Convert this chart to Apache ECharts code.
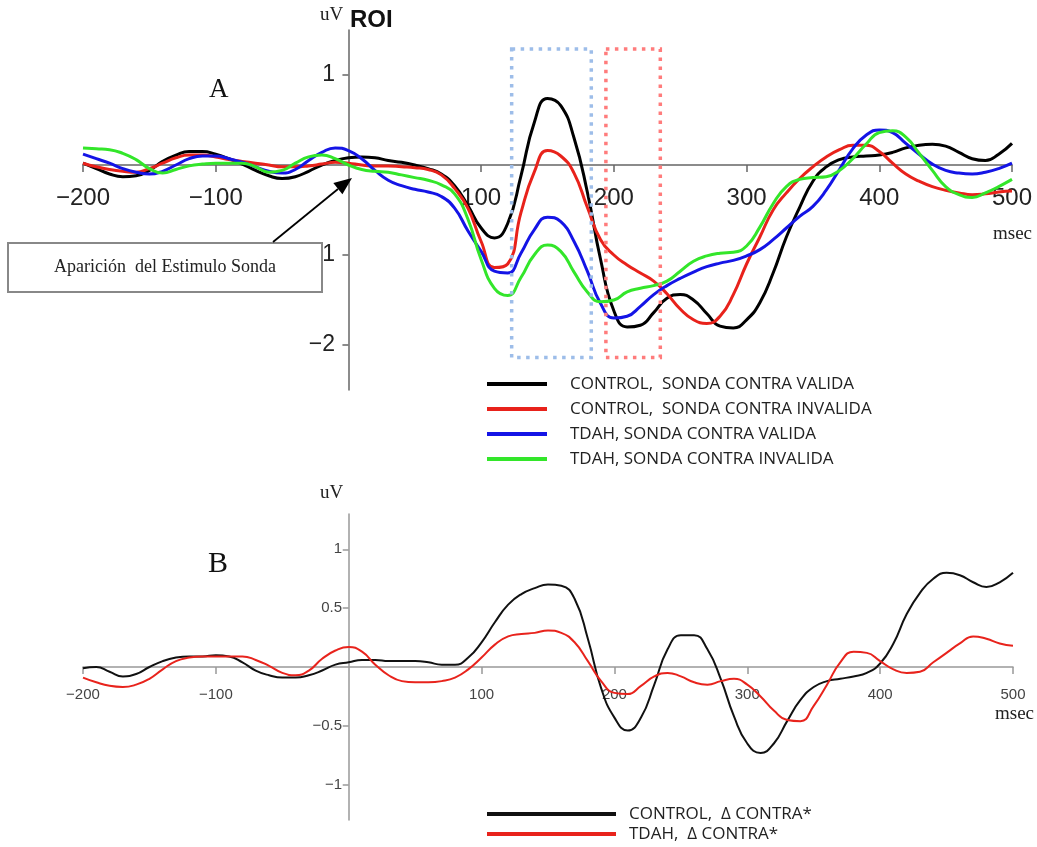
<!DOCTYPE html>
<html><head><meta charset="utf-8">
<script src="https://cdn.jsdelivr.net/npm/echarts@6.0.0/dist/echarts.min.js"></script>
<style>html,body{margin:0;padding:0;background:#fff}#c{width:1037px;height:847px}</style>
</head><body><div id="c"></div>
<script>
// time axis (ms)
const times = [-200,-190,-180,-170,-160,-150,-140,-130,-120,-110,-100,-90,-80,-70,-60,-50,-40,-30,-20,-10,0,10,20,30,40,50,60,70,80,90,100,110,120,130,140,150,160,170,180,190,200,210,220,230,240,250,260,270,280,290,300,310,320,330,340,350,360,370,380,390,400,410,420,430,440,450,460,470,480,490,500];

// Panel A (uV)
const controlValida = [0.02,-0.04,-0.10,-0.13,-0.12,-0.06,0.04,0.11,0.15,0.15,0.12,0.07,0.01,-0.06,-0.12,-0.15,-0.13,-0.07,0.00,0.05,0.08,0.09,0.08,0.05,0.03,0.00,-0.04,-0.10,-0.23,-0.45,-0.70,-0.81,-0.65,-0.12,0.47,0.74,0.66,0.30,-0.30,-1.05,-1.62,-1.80,-1.78,-1.64,-1.48,-1.44,-1.50,-1.65,-1.79,-1.81,-1.72,-1.53,-1.20,-0.80,-0.47,-0.18,-0.02,0.06,0.09,0.10,0.11,0.14,0.19,0.22,0.23,0.21,0.14,0.07,0.05,0.12,0.24];
const controlInvalida = [0.02,-0.02,-0.05,-0.07,-0.08,-0.04,0.02,0.08,0.11,0.11,0.09,0.06,0.04,0.02,0.00,-0.02,-0.02,-0.01,0.01,0.03,0.02,0.00,-0.01,-0.01,-0.02,-0.03,-0.05,-0.11,-0.26,-0.48,-0.85,-1.14,-1.10,-0.53,-0.08,0.16,0.10,-0.09,-0.47,-0.83,-1.00,-1.11,-1.20,-1.29,-1.43,-1.60,-1.72,-1.76,-1.68,-1.44,-1.10,-0.80,-0.50,-0.31,-0.15,-0.02,0.09,0.17,0.22,0.22,0.15,0.02,-0.10,-0.18,-0.24,-0.28,-0.31,-0.33,-0.32,-0.30,-0.29];
const tdahValida = [0.12,0.07,0.02,-0.04,-0.08,-0.10,-0.07,0.00,0.07,0.10,0.10,0.07,0.03,-0.02,-0.07,-0.09,-0.05,0.05,0.14,0.19,0.16,0.07,-0.06,-0.17,-0.23,-0.27,-0.30,-0.35,-0.48,-0.73,-0.96,-1.18,-1.20,-0.98,-0.72,-0.58,-0.63,-0.85,-1.18,-1.54,-1.70,-1.68,-1.57,-1.44,-1.34,-1.26,-1.19,-1.13,-1.09,-1.06,-1.01,-0.94,-0.83,-0.70,-0.57,-0.46,-0.28,-0.05,0.18,0.33,0.39,0.36,0.24,0.12,0.01,-0.06,-0.09,-0.10,-0.08,-0.04,0.02];
const tdahInvalida = [0.19,0.18,0.17,0.13,0.06,-0.04,-0.09,-0.05,-0.01,0.01,0.02,0.02,0.02,-0.02,-0.08,-0.06,0.02,0.09,0.11,0.07,0.00,-0.05,-0.07,-0.08,-0.11,-0.14,-0.17,-0.22,-0.32,-0.60,-1.05,-1.37,-1.45,-1.25,-1.00,-0.89,-0.96,-1.19,-1.41,-1.52,-1.50,-1.41,-1.37,-1.34,-1.29,-1.18,-1.07,-1.01,-0.98,-0.97,-0.90,-0.69,-0.43,-0.24,-0.16,-0.14,-0.13,-0.06,0.07,0.23,0.36,0.38,0.31,0.13,-0.06,-0.24,-0.33,-0.36,-0.31,-0.24,-0.16];

// Panel B (uV)
const controlDelta = [-0.01,0.00,-0.04,-0.08,-0.06,0.00,0.05,0.08,0.09,0.09,0.10,0.09,0.04,-0.03,-0.07,-0.09,-0.09,-0.07,-0.03,0.02,0.04,0.06,0.06,0.05,0.05,0.05,0.04,0.02,0.02,0.08,0.21,0.38,0.53,0.62,0.67,0.70,0.69,0.58,0.24,-0.18,-0.43,-0.54,-0.43,-0.15,0.15,0.27,0.27,0.15,-0.10,-0.42,-0.65,-0.73,-0.65,-0.46,-0.28,-0.17,-0.12,-0.10,-0.08,-0.05,0.03,0.20,0.45,0.63,0.75,0.80,0.78,0.72,0.68,0.72,0.80];
const tdahDelta = [-0.09,-0.13,-0.16,-0.17,-0.15,-0.10,-0.02,0.05,0.08,0.09,0.09,0.09,0.09,0.06,0.01,-0.05,-0.07,-0.03,0.07,0.14,0.17,0.13,0.02,-0.07,-0.12,-0.13,-0.13,-0.12,-0.09,-0.02,0.08,0.19,0.26,0.28,0.29,0.31,0.29,0.21,0.05,-0.12,-0.22,-0.23,-0.16,-0.08,-0.05,-0.08,-0.13,-0.15,-0.12,-0.10,-0.15,-0.25,-0.37,-0.45,-0.46,-0.33,-0.15,0.04,0.13,0.12,0.05,-0.02,-0.05,-0.04,0.04,0.12,0.20,0.26,0.24,0.20,0.18];

// ticks
const xTicks = [-200,-100,100,200,300,400,500];
const yTicksA = [1,-1,-2];
const yTicksB = [1,0.5,-0.5,-1];

// analysis windows (ms) and their vertical extent (uV)
const windowValida = [123,183];
const windowInvalida = [194,235];
const windowRange = [1.29,-2.14];

const namesA = ['CONTROL,  SONDA CONTRA VALIDA','CONTROL,  SONDA CONTRA INVALIDA','TDAH, SONDA CONTRA VALIDA','TDAH, SONDA CONTRA INVALIDA'];
const namesB = ['CONTROL,  \u0394 CONTRA*','TDAH,  \u0394 CONTRA*'];

const pairs = v => times.map((t,i)=>[t,v[i]]);
const fmt = v => (v<0?'\u2212':'') + Math.abs(v);

const colA = ['#000000','#e8221b','#1414e6','#33e62a'];
const colB = ['#111111','#e8231c'];

// labels are laid out from the grid edge; the margins bring them next to the zero lines
function xAx(grid, fs, col, margin, lc){
  return {gridIndex:grid, type:'value', min:-200, max:500,
    axisLine:{onZero:true, lineStyle:{color:lc,width:1.5}},
    axisTick:{show:true, customValues:xTicks, length:7, lineStyle:{color:lc,width:1.5}},
    axisLabel:{customValues:xTicks, formatter:fmt, fontSize:fs, fontFamily:'Liberation Sans', color:col, margin:margin},
    splitLine:{show:false}};
}
function yAx(grid, min, max, ticks, fs, col, margin, lc){
  return {gridIndex:grid, type:'value', min:min, max:max,
    axisLine:{show:true, onZero:true, lineStyle:{color:lc,width:1.5}},
    axisTick:{show:true, customValues:ticks, length:6, lineStyle:{color:lc,width:1.5}},
    axisLabel:{customValues:ticks, formatter:fmt, fontSize:fs, fontFamily:'Liberation Sans', color:col, margin:margin},
    splitLine:{show:false}};
}

const dataA = [controlValida, controlInvalida, tdahValida, tdahInvalida];
const dataB = [controlDelta, tdahDelta];

const series = [];
dataA.forEach((d,i)=>{
  const s = {name:namesA[i], type:'line', xAxisIndex:0, yAxisIndex:0, data:pairs(d), smooth:0.5,
    showSymbol:false, color:colA[i], lineStyle:{width:3, color:colA[i]}, z:3+i};
  if(i===0){
    const box = c => ({color:'rgba(0,0,0,0)', borderColor:c, borderWidth:3.5, borderType:[3.5,5.5]});
    s.markArea = {silent:true, z:10, data:[
      [{xAxis:windowValida[0], yAxis:windowRange[0], itemStyle:box('#9dbde9')},{xAxis:windowValida[1], yAxis:windowRange[1]}],
      [{xAxis:windowInvalida[0], yAxis:windowRange[0], itemStyle:box('#ff7c7c')},{xAxis:windowInvalida[1], yAxis:windowRange[1]}]
    ]};
  }
  series.push(s);
});
dataB.forEach((d,i)=>{
  series.push({name:namesB[i], type:'line', xAxisIndex:1, yAxisIndex:1, data:pairs(d), smooth:0.5,
    showSymbol:false, color:colB[i], lineStyle:{width:2, color:colB[i]}, z:3+i});
});

const option = {
  animation:false,
  backgroundColor:'#ffffff',
  grid:[{left:83, top:30, width:929, height:360}, {left:83, top:514, width:930, height:306}],
  xAxis:[xAx(0,24,'#222',-204,'#666'), xAx(1,15,'#444',-133,'#999')],
  yAxis:[yAx(0,-2.5,1.5,yTicksA,23,'#222',-252,'#666'), yAx(1,-1.3,1.3,yTicksB,15,'#444',-259,'#999')],
  legend:[
    {data:namesA, orient:'vertical', left:487, top:374, padding:0, itemWidth:60, itemHeight:4, itemGap:5, icon:'rect', selectedMode:false,
     textStyle:{fontFamily:'Open Sans', fontSize:17, color:'#222', lineHeight:20, padding:[0,0,0,18]}},
    {data:namesB, orient:'vertical', left:487, top:805, padding:0, itemWidth:129, itemHeight:4, itemGap:2, icon:'rect', selectedMode:false,
     textStyle:{fontFamily:'Open Sans', fontSize:17, color:'#222', lineHeight:18, padding:[0,0,0,8]}}
  ],
  graphic:[
    {type:'text', z:100, left:320, top:6, style:{text:'uV', font:'19px "Liberation Serif"', fill:'#222'}},
    {type:'text', z:100, left:350, top:8, style:{text:'ROI', font:'bold 24px "Liberation Sans"', fill:'#111'}},
    {type:'text', z:100, left:209, top:76, style:{text:'A', font:'27px "Liberation Serif"', fill:'#111'}},
    {type:'text', z:100, left:208, top:549, style:{text:'B', font:'30px "Liberation Serif"', fill:'#111'}},
    {type:'text', z:100, left:993, top:225, style:{text:'msec', font:'19px "Liberation Serif"', fill:'#222'}},
    {type:'text', z:100, left:995, top:705, style:{text:'msec', font:'19px "Liberation Serif"', fill:'#222'}},
    {type:'text', z:100, left:320, top:484, style:{text:'uV', font:'19px "Liberation Serif"', fill:'#222'}},
    {type:'rect', z:100, shape:{x:8, y:243, width:314, height:49}, style:{fill:'#fff', stroke:'#888', lineWidth:2}},
    {type:'text', z:101, x:165, y:267, style:{text:'Aparici\u00f3n  del Estimulo Sonda', font:'18px "Liberation Serif"', fill:'#222', textAlign:'center', textVerticalAlign:'middle'}},
    {type:'line', z:100, shape:{x1:273, y1:242, x2:338, y2:189}, style:{stroke:'#000', lineWidth:1.8}},
    {type:'polygon', z:100, shape:{points:[[352,178],[342.4,194.3],[333.3,183.0]]}, style:{fill:'#000'}}
  ],
  series:series
};
echarts.init(document.getElementById('c'), null, {renderer:'canvas'}).setOption(option);
</script></body></html>
